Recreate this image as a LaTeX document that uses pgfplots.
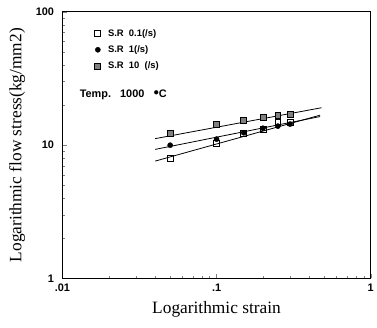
\documentclass[border=0pt]{standalone}
\usepackage{fontspec}
\setmainfont{Liberation Serif}
\setsansfont{Liberation Sans}
\usepackage{pgfplots}
\pgfplotsset{compat=1.18}
\begin{document}
\begin{tikzpicture}
\begin{axis}[
  name=ax,
  scale only axis,
  width=311pt, height=269pt,
  xmode=log, ymode=log,
  xmin=0.01, xmax=1, ymin=1, ymax=100,
  xtick={0.01,0.1,1}, xticklabels={.01,.1,1},
  ytick={1,10,100}, yticklabels={1,10,100},
  xtick pos=bottom, ytick pos=left,
  tick align=inside,
  major tick length=5pt, minor tick length=3pt,
  tick label style={font=\sffamily\bfseries\fontsize{11}{12}\selectfont},
  yticklabel style={xshift=-5pt},
  xticklabel style={yshift=-2pt},
  /pgf/number format/assume math mode=true,
  xlabel={Logarithmic strain},
  ylabel={Logarithmic flow stress(kg/mm2)},
  label style={font=\fontsize{17.5}{20}\selectfont},
  xlabel style={yshift=-3pt},
  ylabel style={yshift=4pt},
  axis line style={line width=0.8pt},
  legend style={draw=none, fill=none, at={(rel axis cs:0.095,0.95)}, anchor=north west,
    font=\sffamily\bfseries\fontsize{9.5}{10}\selectfont, row sep=4pt},
  legend cell align=left,
]
% S.R 0.1
\addplot[only marks, mark=square, mark size=3pt, thick] coordinates {
 (0.05,8.0) (0.1,10.3) (0.15,12.2) (0.2,13.1) (0.25,14.8) (0.3,14.8)};
\addlegendentry{\ \ S.R\ \ 0.1(/s)}
% S.R 1
\addplot[only marks, mark=*, mark size=2.6pt] coordinates {
 (0.05,10.0) (0.1,11.1) (0.15,12.4) (0.2,13.4) (0.25,13.9) (0.3,14.4)};
\addlegendentry{\ \ S.R\ \ 1(/s)}
% S.R 10
\addplot[only marks, mark=square*, mark size=3pt, fill=gray, thick] coordinates {
 (0.05,12.3) (0.1,14.3) (0.15,15.4) (0.2,16.1) (0.25,16.8) (0.3,17.0)};
\addlegendentry{\ \ S.R\ \ 10\ \ (/s)}
% fitted lines
\addplot[thick, forget plot] coordinates {(0.04,7.6) (0.47,16.8)};
\addplot[thick, forget plot] coordinates {(0.04,9.3) (0.47,16.4)};
\addplot[thick, forget plot] coordinates {(0.04,11.2) (0.48,19.1)};
\node[anchor=west, font=\sffamily\bfseries\fontsize{11}{12}\selectfont] at (rel axis cs:0.045,0.69) {Temp.\ \ \ 1000\ \ \ \raisebox{2pt}{$\bullet$}C};
\end{axis}
\path (ax.south west) ++(-63pt,-49pt);
\path (ax.north east) ++(2pt,12pt);
\end{tikzpicture}
\end{document}
